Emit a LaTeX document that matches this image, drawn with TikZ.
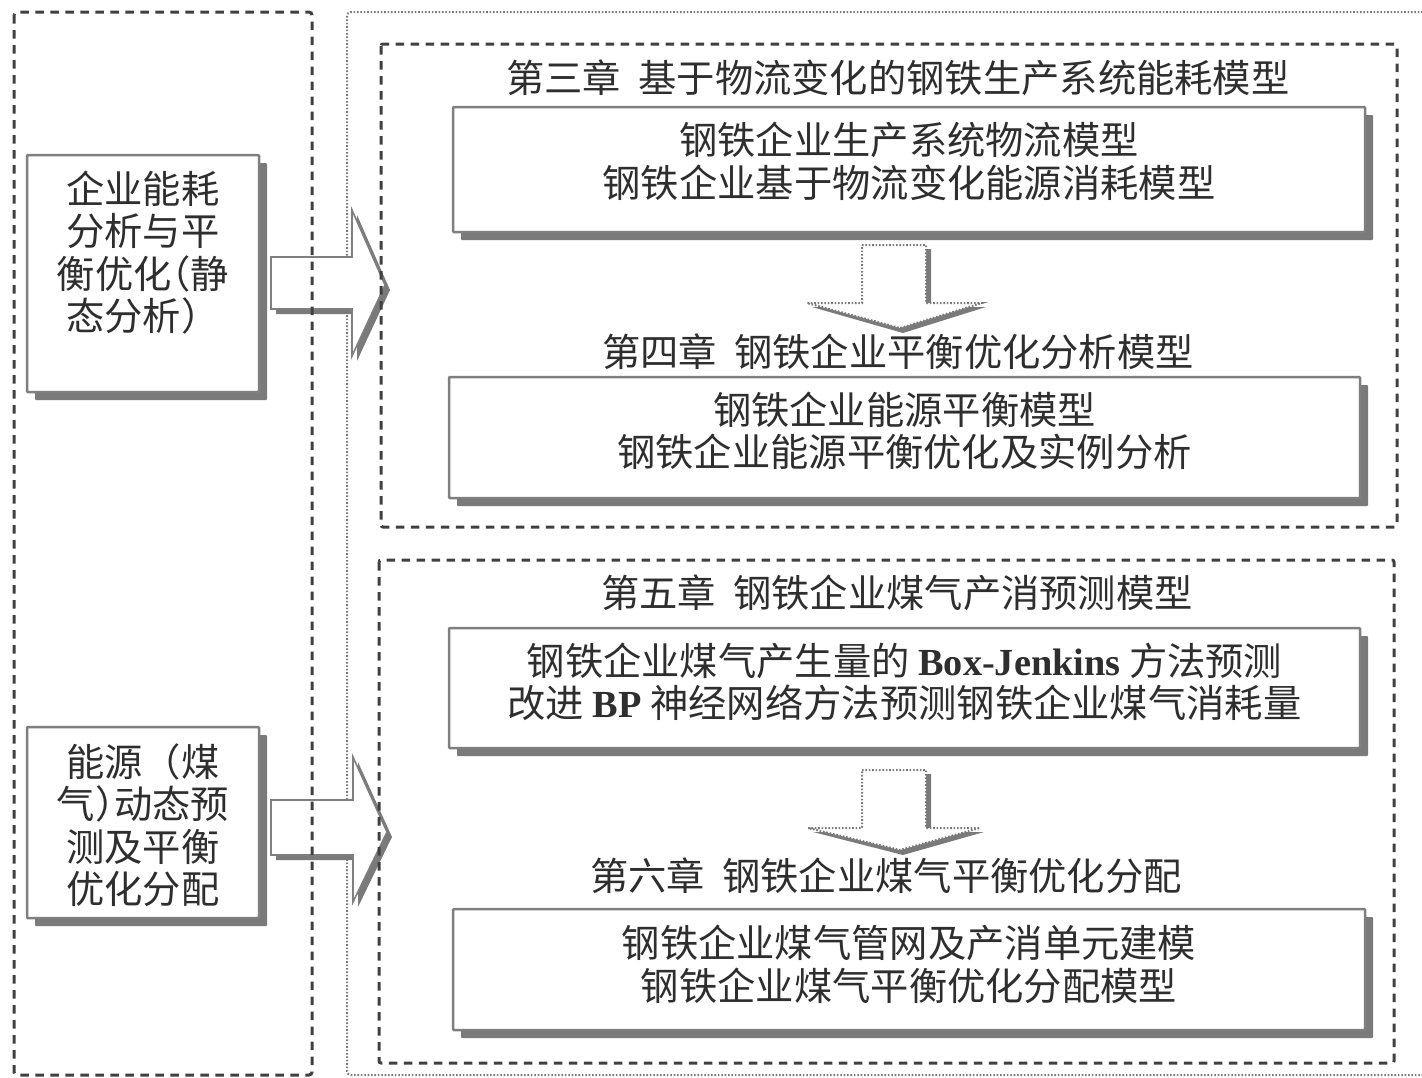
\documentclass[tikz,border=0pt]{standalone}
\usepackage{fontspec}
\usetikzlibrary{shadows}
\newfontfamily\cjk{Noto Sans CJK SC}
\newfontfamily\cjkh[RawFeature=+halt]{Noto Sans CJK SC}
\newfontfamily\lat{Liberation Serif}
\definecolor{txtc}{HTML}{2E2E2E}
\definecolor{linec}{HTML}{7F7F7F}
\definecolor{shadc}{HTML}{7A7A7A}
\definecolor{dashc}{HTML}{404040}
\definecolor{dotc}{HTML}{7A7A7A}
\newcommand{\LB}[1]{{\lat\bfseries #1}}
\newcommand{\HP}[1]{{\cjkh #1}}
\begin{document}
\begin{tikzpicture}[x=1pt,y=-1pt,
  txt/.style={font=\cjk\fontsize{38.3}{42.5}\selectfont, text=txtc, align=center, inner sep=0pt},
  ttl/.style={font=\cjk\fontsize{38.3}{42.5}\selectfont, text=txtc, inner sep=0pt},
  sbox/.style={draw=linec, line width=2.5pt, fill=white, inner sep=0pt, rounded corners=1pt,
    drop shadow={shadow xshift=8pt, shadow yshift=-8pt, opacity=1, fill=shadc}},
  outerdash/.style={draw=dashc, line width=3pt, dash pattern=on 8.5pt off 6.5pt, rounded corners=3pt},
  innerdash/.style={draw=dashc, line width=3pt, dash pattern=on 8.5pt off 6.5pt, rounded corners=2pt},
  outerdot/.style={draw=dotc, line width=2pt, dash pattern=on 1.6pt off 1.8pt, rounded corners=4pt},
  rarrow/.style={draw=linec, line width=1.6pt, fill=white},
  rshadow/.style={fill=shadc},
  darrow/.style={draw=dotc, line width=2pt, dash pattern=on 1.6pt off 1.8pt, fill=white},
]
\useasboundingbox (0,0) rectangle (1422,1077);

% big dotted frame (right side)
\draw[outerdot] (347,12) rectangle (1440,1075);

% block arrows to the right
\fill[rshadow] (276,262) -- (357,262) -- (357,215) -- (390,290) -- (357,361) -- (357,314) -- (276,314) -- cycle;
\draw[rarrow] (271,257) -- (352,257) -- (352,210) -- (385,285) -- (352,356) -- (352,309) -- (271,309) -- cycle;
\fill[rshadow] (276,805) -- (358,805) -- (358,762) -- (392,837) -- (358,907) -- (358,860) -- (276,860) -- cycle;
\draw[rarrow] (271,800) -- (353,800) -- (353,757) -- (387,832) -- (353,902) -- (353,855) -- (271,855) -- cycle;

% left dashed frame
\draw[outerdash] (14,12) rectangle (312,1075);
% inner dashed frames
\draw[innerdash] (381,44) rectangle (1397,527);
\draw[innerdash] (379,560) rectangle (1394,1063);

% left boxes
\node[sbox, minimum width=232pt, minimum height=237pt] (L1) at (143,273.5) {};
\node[txt] (L1t) at (143,252.5) {企业能耗\\分析与平\\衡优化\HP{（}静\\态分析\HP{）}\kern0.5em};
\node[sbox, minimum width=232pt, minimum height=191pt] (L2) at (143,822.5) {};
\node[txt] (L2t) at (143,825) {能源（煤\\气\HP{）}动态预\\测及平衡\\优化分配};

% chapter titles
\node[ttl] (T1) at (898,78) {第三章\hspace{0.45em}基于物流变化的钢铁生产系统能耗模型};
\node[ttl] (T2) at (898,352) {第四章\hspace{0.45em}钢铁企业平衡优化分析模型};
\node[ttl] (T3) at (897,593) {第五章\hspace{0.45em}钢铁企业煤气产消预测模型};
\node[ttl] (T4) at (886,876) {第六章\hspace{0.45em}钢铁企业煤气平衡优化分配};

% content boxes
\node[sbox, minimum width=912pt, minimum height=125pt] (B1) at (909,169.5) {};
\node[txt] (B1t) at (909,161.5) {钢铁企业生产系统物流模型\\钢铁企业基于物流变化能源消耗模型};
\node[sbox, minimum width=911pt, minimum height=121pt] (B2) at (904.5,437.5) {};
\node[txt] (B2t) at (904.5,431) {钢铁企业能源平衡模型\\钢铁企业能源平衡优化及实例分析};
\node[sbox, minimum width=911pt, minimum height=120pt] (B3) at (904.5,688) {};
\node[txt] (B3t) at (904.5,682) {钢铁企业煤气产生量的 \LB{Box-Jenkins} 方法预测\\改进 \LB{BP} 神经网络方法预测钢铁企业煤气消耗量};
\node[sbox, minimum width=912pt, minimum height=121pt] (B4) at (909,969.5) {};
\node[txt] (B4t) at (909,964.5) {钢铁企业煤气管网及产消单元建模\\钢铁企业煤气平衡优化分配模型};

% down arrows
\fill[rshadow] (867,249) -- (931,249) -- (931,307) -- (986,307) -- (903,333) -- (812,307) -- (867,307) -- cycle;
\draw[darrow] (862,245) -- (926,245) -- (926,303) -- (982,303) -- (900,328) -- (807,303) -- (862,303) -- cycle;
\fill[rshadow] (867,774) -- (931,774) -- (931,832) -- (984,832) -- (903,855) -- (813,832) -- (867,832) -- cycle;
\draw[darrow] (862,770) -- (926,770) -- (926,828) -- (980,828) -- (900,850) -- (808,828) -- (862,828) -- cycle;
\end{tikzpicture}
\end{document}
